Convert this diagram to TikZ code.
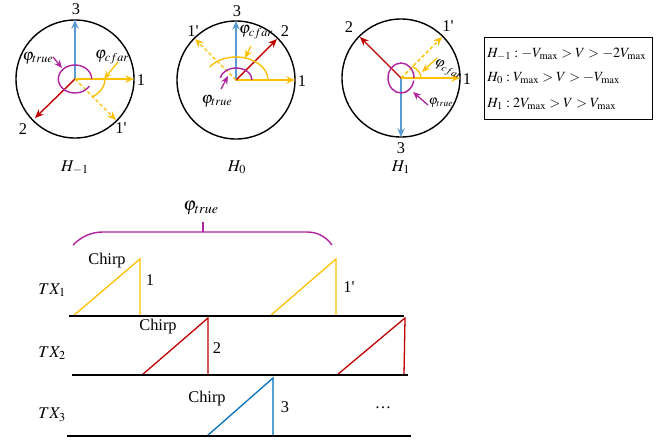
\documentclass[tikz,border=0pt]{standalone}
\usepackage{mathptmx}
\usepackage[no-math]{fontspec}
\setmainfont{Liberation Serif}
\usetikzlibrary{arrows.meta}
\definecolor{amber}{HTML}{FFC000}
\definecolor{crimson}{HTML}{C00000}
\definecolor{sky}{HTML}{5B9BD5}
\definecolor{ocean}{HTML}{0070C0}
\definecolor{plum}{HTML}{B0239F}
\newcommand{\pr}{\textquotesingle}
\tikzset{
  lbl/.style={font=\fontsize{14}{16}\selectfont,inner sep=1pt},
  small/.style={font=\fontsize{11}{13}\selectfont,inner sep=1pt},
  ring/.style={circle,draw=black,line width=1.2pt,minimum size=3.54cm,inner sep=0pt},
  vec/.style={-{Stealth[length=2.6mm,width=2.2mm]},line width=1.2pt},
  vecdash/.style={vec,dash pattern=on 3pt off 2pt},
  pointer/.style={-{Stealth[length=2.4mm,width=2mm]},line width=1.1pt},
  phase/.style={line width=1.2pt},
  track/.style={draw=black,line width=1.5pt},
  chirpline/.style={line width=1.1pt,line join=miter}
}
\begin{document}
\begin{tikzpicture}[x=0.03cm,y=-0.03cm]
\path[use as bounding box] (0,0) rectangle (670,440);
% H_{-1}
\coordinate (o1) at (75,79); \node[ring] (k1) at (o1) {};
\coordinate (t1a) at (134,79); \coordinate (t1b) at (35,118); \coordinate (t1c) at (75,20); \coordinate (t1d) at (116,120);
\draw[vec,sky] (o1)--(t1c); \draw[vec,amber] (o1)--(t1a); \draw[vec,crimson] (o1)--(t1b); \draw[vecdash,amber] (o1)--(t1d);
\draw[phase,plum] (o1) ++(0.5cm,0) arc[start angle=0,end angle=330,x radius=0.5cm,y radius=0.42cm];
\draw[phase,amber] (o1) ++(0.9cm,0) arc[start angle=0,end angle=-55,x radius=0.9cm,y radius=0.66cm];
\node[lbl] (n1c) at (76,9) {3}; \node[lbl] (n1a) at (141,80) {1}; \node[lbl] (n1b) at (23,129) {2}; \node[lbl] (n1d) at (121,128) {1\pr};
\node[lbl] (cf1) at (112,57) {$\varphi_{cfar}$}; \node[lbl] (tr1) at (38,58) {$\varphi_{true}$};
\coordinate (g1) at (118,62); \coordinate (f1) at (104,79); \draw[pointer,amber] (g1)--(f1);
\coordinate (q1) at (53,57); \coordinate (m1) at (62,68); \draw[pointer,plum] (q1)--(m1);
\node[lbl,anchor=base] (h1) at (75,171) {$H_{-1}$};
% H_0
\coordinate (o2) at (236,80); \node[ring] (k2) at (o2) {};
\coordinate (t2a) at (295,80); \coordinate (t2b) at (277,39); \coordinate (t2c) at (236,21); \coordinate (t2d) at (195,39);
\draw[vec,sky] (o2)--(t2c); \draw[vec,amber] (o2)--(t2a); \draw[vec,crimson] (o2)--(t2b); \draw[vecdash,amber] (o2)--(t2d);
\draw[phase,amber] (o2) ++(0.96cm,0) arc[start angle=0,end angle=145,x radius=0.96cm,y radius=0.69cm];
\draw[phase,plum] (o2) ++(0.48cm,0) arc[start angle=0,end angle=170,x radius=0.48cm,y radius=0.36cm];
\node[lbl] (n2c) at (237,11) {3}; \node[lbl] (n2a) at (302,81) {1}; \node[lbl] (n2b) at (285,31) {2}; \node[lbl] (n2d) at (193,31) {1\pr};
\node[lbl] (cf2) at (256,32) {$\varphi_{cfar}$}; \node[lbl] (tr2) at (217,101) {$\varphi_{true}$};
\coordinate (g2) at (251,46); \coordinate (f2) at (245,58); \draw[pointer,amber] (g2)--(f2);
\coordinate (q2) at (221,89); \coordinate (m2) at (228,76); \draw[pointer,plum] (q2)--(m2);
\node[lbl,anchor=base] (h2) at (237,171) {$H_{0}$};
% H_1
\coordinate (o3) at (401,78); \node[ring] (k3) at (o3) {};
\coordinate (t3a) at (460,78); \coordinate (t3b) at (360,37); \coordinate (t3c) at (401,137); \coordinate (t3d) at (442,37);
\draw[vec,sky] (o3)--(t3c); \draw[vec,amber] (o3)--(t3a); \draw[vec,crimson] (o3)--(t3b); \draw[vecdash,amber] (o3)--(t3d);
\draw[phase,plum] (o3) ++(0.39cm,0) arc[start angle=0,end angle=350,x radius=0.39cm,y radius=0.45cm];
\draw[phase,amber] (o3) ++(0.6cm,0) arc[start angle=0,end angle=55,x radius=0.6cm,y radius=0.42cm];
\node[lbl] (n3a) at (467,79) {1}; \node[lbl] (n3b) at (349,27) {2}; \node[lbl] (n3c) at (401,148) {3}; \node[lbl] (n3d) at (448,26) {1\pr};
\node[lbl,font=\fontsize{12}{14}\selectfont,rotate=-25] (cf3) at (448,70) {$\varphi_{cfar}$}; \node[small] (tr3) at (441,103) {$\varphi_{true}$};
\coordinate (g3) at (437,58); \coordinate (f3) at (422,72); \draw[pointer,amber] (g3)--(f3);
\coordinate (q3) at (428,105); \coordinate (m3) at (413,92); \draw[pointer,plum] (q3)--(m3);
\node[lbl,anchor=base] (h3) at (401,171) {$H_{1}$};
% legend
\node[draw=black,line width=1.2pt,minimum width=5.04cm,minimum height=2.46cm,anchor=north west,inner sep=0pt] (leg) at (484,37) {};
\node[lbl,font=\fontsize{12}{14}\selectfont,anchor=base west] (leg1) at (486,57) {$H_{-1}:-V_{\max}>V>-2V_{\max}$};
\node[lbl,font=\fontsize{12}{14}\selectfont,anchor=base west] (leg2) at (486,81) {$H_{0}:V_{\max}>V>-V_{\max}$};
\node[lbl,font=\fontsize{12}{14}\selectfont,anchor=base west] (leg3) at (486,107) {$H_{1}:2V_{\max}>V>V_{\max}$};
% chirp sequences
\node[lbl,font=\fontsize{16}{18}\selectfont] (trb) at (201,208) {$\varphi_{true}$};
\draw[phase,plum] (73,245) .. controls (82,236) and (92,232) .. (103,232) -- (307,232) .. controls (318,232) and (326,237) .. (332,245);
\draw[phase,plum] (203,232) -- (203,222);
\node[lbl] (tx1) at (52,290) {$TX_1$}; \node[lbl] (tx2) at (52,353) {$TX_2$}; \node[lbl] (tx3) at (52,415) {$TX_3$};
\draw[chirpline,amber] (73,316) -- (140,259) -- (140,316); \draw[chirpline,amber] (270,316) -- (336,259) -- (336,316);
\draw[chirpline,crimson] (142,375) -- (208,318) -- (208,375); \draw[chirpline,crimson] (337,375) -- (405,318) -- (404,375);
\draw[chirpline,ocean] (207,436) -- (273,378) -- (273,436);
\draw[track] (69,316) -- (404,316); \draw[track] (72,375) -- (408,375); \draw[track] (67,436) -- (411,436);
\node[lbl] (cp1) at (107,261) {Chirp}; \node[lbl] (cp2) at (158,327) {Chirp}; \node[lbl] (cp3) at (207,399) {Chirp};
\node[lbl] (s1) at (150,280) {1}; \node[lbl] (s1p) at (349,287) {1\pr}; \node[lbl] (s2) at (217,348) {2}; \node[lbl] (s3) at (285,407) {3};
\node[lbl] (dots) at (383,408) {\ldots};
\end{tikzpicture}
\end{document}
